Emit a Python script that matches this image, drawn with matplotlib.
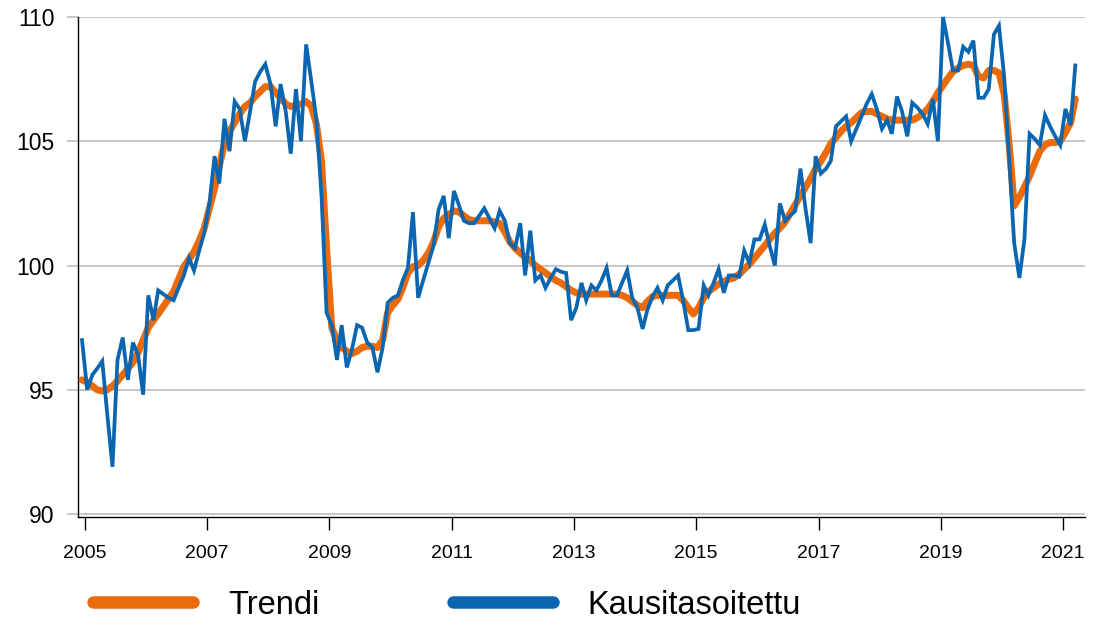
import numpy as np
import pandas as pd
import matplotlib
matplotlib.use("Agg")
import matplotlib.pyplot as plt
import matplotlib.dates as mdates
from matplotlib.lines import Line2D

plt.rcParams["font.family"] = ["Liberation Sans", "DejaVu Sans"]

# Kuukausiarvot, joulukuu 2004 - maaliskuu 2021
alku = "2004-12-01"

kausitasoitettu = [
    97.0,
    95.0, 95.6, 95.85, 96.15, 94.0, 91.9, 96.2, 97.1, 95.4, 96.9, 96.4, 94.8,                 # 2005
    98.8, 97.8, 99.0, 98.85, 98.7, 98.6, 99.1, 99.6, 100.3, 99.8, 100.6, 101.3,              # 2006
    102.5, 104.4, 103.3, 105.9, 104.6, 106.6, 106.3, 105.0, 106.2, 107.4, 107.8, 108.1,      # 2007
    107.3, 105.6, 107.3, 106.2, 104.5, 107.1, 105.0, 108.9, 107.4, 105.9, 102.8, 98.1,       # 2008
    97.6, 96.2, 97.6, 95.9, 96.6, 97.6, 97.5, 96.9, 96.7, 95.7, 96.7, 98.5,                  # 2009
    98.7, 98.8, 99.4, 99.9, 102.15, 98.7, 99.4, 100.1, 100.8, 102.25, 102.8, 101.1,          # 2010
    103.0, 102.4, 101.8, 101.7, 101.7, 102.0, 102.3, 101.9, 101.5, 102.2, 101.8, 100.9,      # 2011
    100.7, 101.7, 99.6, 101.4, 99.4, 99.6, 99.1, 99.5, 99.85, 99.75, 99.7, 97.8,             # 2012
    98.3, 99.3, 98.6, 99.2, 99.0, 99.4, 99.9, 98.8, 98.8, 99.3, 99.8, 98.7,                  # 2013
    98.3, 97.45, 98.2, 98.75, 99.1, 98.6, 99.2, 99.4, 99.6, 98.6, 97.4, 97.4,                # 2014
    97.45, 99.2, 98.8, 99.3, 99.85, 98.9, 99.6, 99.6, 99.55, 100.6, 100.1, 101.05,           # 2015
    101.05, 101.65, 100.8, 100.0, 102.5, 101.8, 102.0, 102.2, 103.9, 102.3, 100.9, 104.4,    # 2016
    103.7, 103.9, 104.2, 105.6, 105.8, 106.0, 105.0, 105.5, 106.0, 106.5, 106.9, 106.3,      # 2017
    105.5, 105.85, 105.3, 106.8, 106.2, 105.2, 106.55, 106.35, 106.1, 105.7, 106.7, 105.0,   # 2018
    110.0, 108.9, 107.85, 107.85, 108.8, 108.6, 109.05, 106.75, 106.75, 107.1, 109.3, 109.65,  # 2019
    107.6, 104.1, 100.9, 99.5, 101.05, 105.3, 105.1, 104.85, 106.05, 105.6, 105.2, 104.85,   # 2020
    106.3, 105.65, 108.05,                                                                   # 2021
]

trendi = [
    95.4,
    95.3, 95.15, 95.0, 94.95, 95.0, 95.15, 95.35, 95.6, 95.85, 96.1, 96.5, 97.0,             # 2005
    97.5, 97.8, 98.05, 98.35, 98.65, 98.95, 99.45, 99.95, 100.25, 100.55, 101.0, 101.5,      # 2006
    102.3, 103.1, 104.0, 104.9, 105.4, 105.75, 106.1, 106.4, 106.55, 106.8, 107.0, 107.2,    # 2007
    107.2, 106.95, 106.75, 106.5, 106.4, 106.45, 106.5, 106.6, 106.4, 105.7, 104.2, 100.7,   # 2008
    97.5, 97.0, 96.7, 96.55, 96.45, 96.55, 96.7, 96.75, 96.75, 96.7, 97.0, 98.1,             # 2009
    98.4, 98.65, 99.1, 99.7, 99.95, 100.0, 100.2, 100.5, 100.95, 101.55, 101.9, 102.05,      # 2010
    102.2, 102.15, 102.0, 101.85, 101.8, 101.8, 101.8, 101.8, 101.75, 101.7, 101.35, 100.95,  # 2011
    100.7, 100.5, 100.35, 100.2, 100.0, 99.85, 99.7, 99.55, 99.4, 99.3, 99.15, 99.0,         # 2012
    98.9, 98.85, 98.85, 98.85, 98.85, 98.85, 98.85, 98.85, 98.85, 98.8, 98.7, 98.55,         # 2013
    98.4, 98.3, 98.55, 98.75, 98.8, 98.8, 98.8, 98.8, 98.8, 98.6, 98.3, 98.05,               # 2014
    98.3, 98.7, 98.95, 99.1, 99.25, 99.35, 99.45, 99.5, 99.65, 99.85, 100.05, 100.3,         # 2015
    100.55, 100.8, 101.05, 101.3, 101.5, 101.75, 102.1, 102.45, 102.8, 103.15, 103.5, 103.9,  # 2016
    104.2, 104.55, 104.9, 105.15, 105.4, 105.6, 105.75, 105.95, 106.15, 106.2, 106.2, 106.1,  # 2017
    106.0, 105.9, 105.85, 105.85, 105.85, 105.85, 105.85, 105.95, 106.1, 106.3, 106.6, 106.95,  # 2018
    107.25, 107.55, 107.8, 107.95, 108.05, 108.1, 108.05, 107.6, 107.55, 107.85, 107.85, 107.75,  # 2019
    106.9, 104.8, 102.4, 102.75, 103.15, 103.6, 104.1, 104.6, 104.85, 104.95, 104.95, 105.0,  # 2020
    105.35, 105.75, 106.7,                                                                   # 2021
]

tick_years = [2005, 2007, 2009, 2011, 2013, 2015, 2017, 2019, 2021]
y_ticks = [90, 95, 100, 105, 110]

ORANGE = "#EB6A0A"
BLUE = "#0A66B0"
GRID = "#BEBEBE"

# kuukauden puoliväli
dates = pd.date_range(alku, periods=len(kausitasoitettu), freq="MS") + pd.Timedelta(days=14)

fig = plt.figure(figsize=(10.94, 6.22), dpi=100)
ax = fig.add_axes([78 / 1094, 1 - 517 / 622, (1085 - 78) / 1094, 500 / 622])

ax.plot(dates, trendi, color=ORANGE, lw=5.0, solid_joinstyle="round", solid_capstyle="round",
        zorder=3, clip_on=False)
ax.plot(dates, kausitasoitettu, color=BLUE, lw=2.7, solid_joinstyle="miter", zorder=4, clip_on=False)

ax.set_xlim(dates[0] - pd.Timedelta(days=24), dates[-1] + pd.Timedelta(days=58))
ax.set_ylim(89.88, 110)

ax.set_xticks([pd.Timestamp(f"{y}-01-01") for y in tick_years])
ax.xaxis.set_major_formatter(mdates.DateFormatter("%Y"))
ax.set_yticks(y_ticks)

ax.yaxis.grid(True, color=GRID, lw=1.2)
ax.set_axisbelow(True)

for s in ["top", "right"]:
    ax.spines[s].set_visible(False)
ax.spines["left"].set_linewidth(1.0)
ax.spines["bottom"].set_linewidth(1.0)

ax.tick_params(axis="y", length=8, width=1.2, color=GRID, labelsize=16.5, pad=9)
ax.tick_params(axis="x", length=9, width=1.0, color="black", labelsize=14, pad=11)

handles = [Line2D([], [], color=ORANGE, lw=9, solid_capstyle="round"),
           Line2D([], [], color=BLUE, lw=9, solid_capstyle="round")]
fig.legend(handles, ["Trendi", "Kausitasoitettu"], loc="center left",
           bbox_to_anchor=(93 / 1094, 1 - 605 / 622), ncol=2, frameon=False,
           fontsize=23.5, handlelength=3.05, handletextpad=1.08, columnspacing=4.1,
           borderpad=0, borderaxespad=0)

fig.savefig("out.png", dpi=100)
